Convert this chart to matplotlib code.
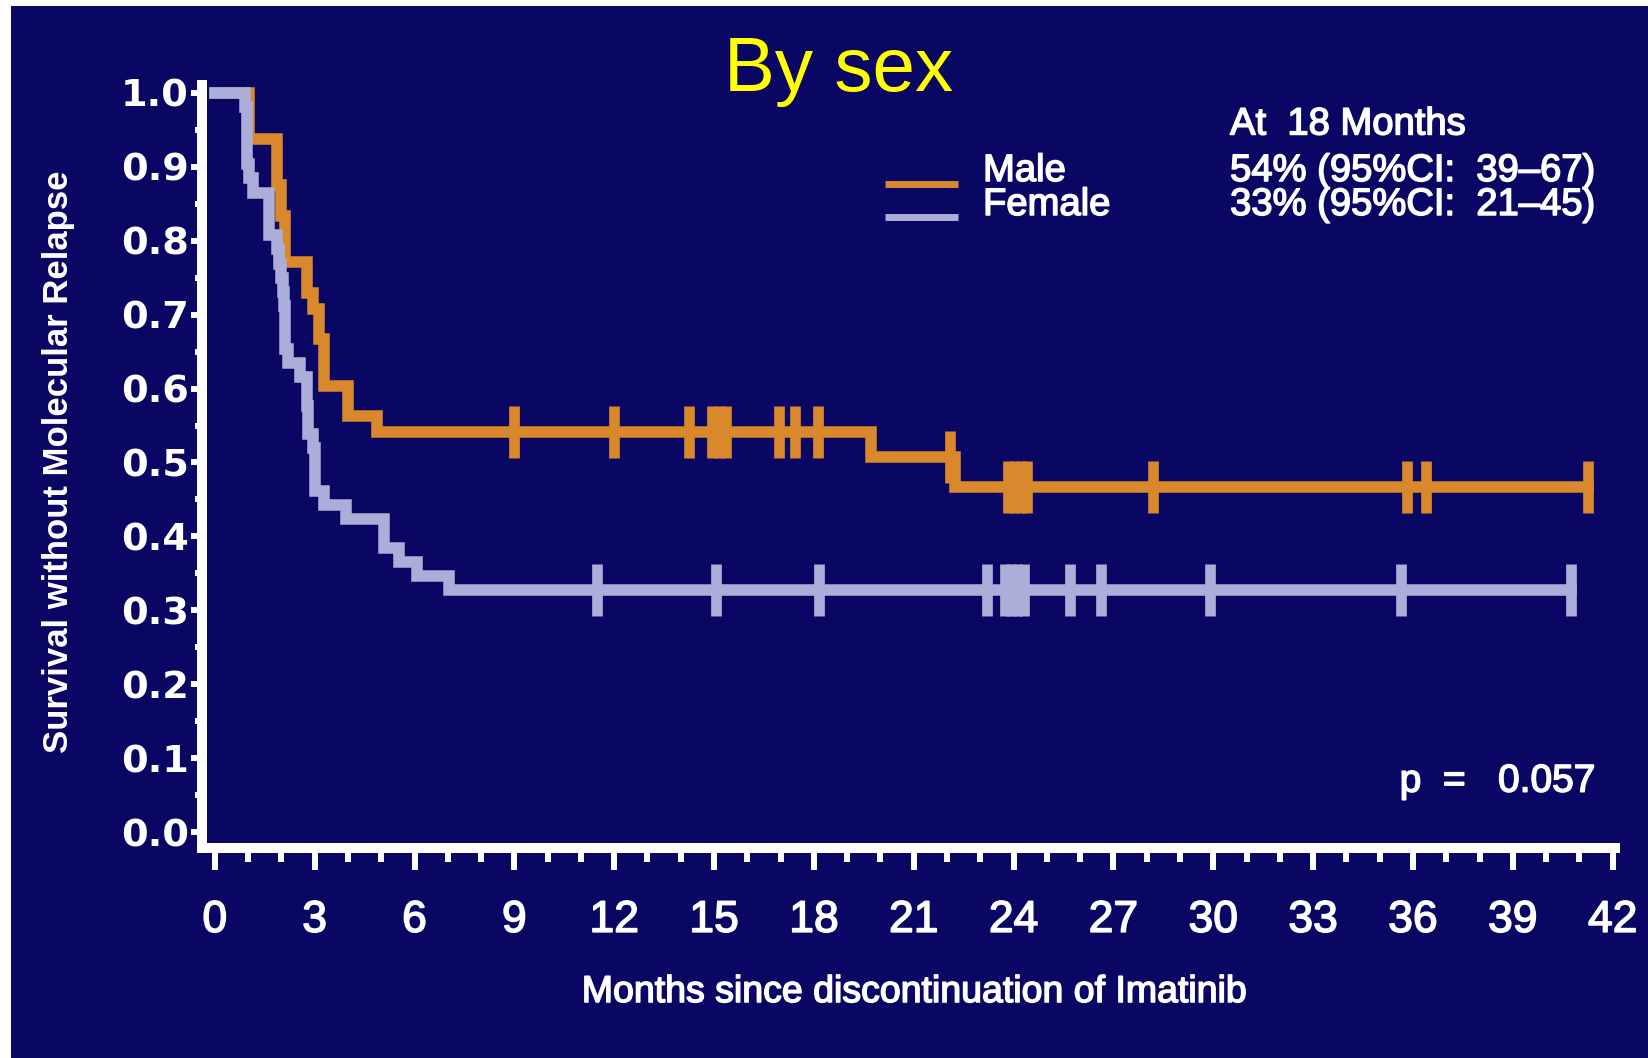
import numpy as np
import matplotlib.pyplot as plt
import matplotlib.patheffects as pe
from matplotlib.patches import Rectangle
from matplotlib.lines import Line2D
from matplotlib.ticker import MultipleLocator

plt.rcParams['font.family'] = ['Liberation Sans', 'DejaVu Sans']

navy = '#0a0664'
orange = '#d9882c'
lavender = '#adadd9'

# Kaplan-Meier steps: time of event (months) and survival after it
male_t = [0, 1.02, 1.87, 1.99, 2.12, 2.78, 2.94, 3.12, 3.28, 4.01, 4.86, 19.71, 22.25, 41.25]
male_s = [1.0, 0.9375, 0.875, 0.833, 0.771, 0.729, 0.708, 0.667, 0.604, 0.5625, 0.5417, 0.507, 0.4665, 0.4665]
male_cens = [9.0, 12.0, 14.25, 14.95, 15.15, 15.35, 16.96, 17.43, 18.12, 22.1,
             23.82, 24.02, 24.22, 24.4, 28.2, 35.82, 36.39, 41.25]

female_t = [0, 0.90, 0.97, 1.02, 1.15, 1.62, 1.88, 1.94, 2.00, 2.05, 2.08, 2.11, 2.21,
            2.55, 2.76, 2.81, 2.96, 3.01, 3.28, 3.94, 5.08, 5.52, 6.08, 7.03, 40.74]
female_s = [1.0, 0.981, 0.904, 0.885, 0.865, 0.808, 0.788, 0.769, 0.750, 0.731, 0.712, 0.654, 0.635,
            0.615, 0.577, 0.538, 0.519, 0.462, 0.442, 0.423, 0.385, 0.365, 0.346, 0.327, 0.327]
female_cens = [11.47, 15.05, 18.16, 23.2, 23.74, 23.92, 24.1, 24.3, 25.71, 26.62, 29.91, 35.63, 40.74]

xticks = list(range(0, 43, 3))
yticks = [0.0, 0.1, 0.2, 0.3, 0.4, 0.5, 0.6, 0.7, 0.8, 0.9, 1.0]
ytick_labels = ['0.0', '0.1', '0.2', '0.3', '0.4', '0.5', '0.6', '0.7', '0.8', '0.9', '1.0']

# slightly heavier white lettering
heavy = [pe.withStroke(linewidth=1.1, foreground='white')]


def level_at(times, surv, c):
    i = np.searchsorted(times, c, side='right') - 1
    return [surv[k] for k in i]


def km_curve(ax, times, surv, cens, color):
    ax.step(times, surv, where='post', color=color, lw=8.3, solid_joinstyle='miter')
    ax.plot(cens, level_at(times, surv, cens), ls='none', marker='|', ms=37, mew=7.7, color=color)


fig = plt.figure(figsize=(16.48, 10.58), dpi=100, facecolor='white')
fig.patches.append(Rectangle((11 / 1648, 0), 1, 1 - 6 / 1058, transform=fig.transFigure,
                             facecolor=navy, edgecolor='none', zorder=-10))

ax = fig.add_axes([0.12257, 0.19802, 0.85740, 0.72164])
ax.set_facecolor('none')

km_curve(ax, male_t, male_s, male_cens, orange)
km_curve(ax, female_t, female_s, female_cens, lavender)

ax.set_xlim(-0.385, 42.07)
ax.set_ylim(-0.0219, 1.0104)

for side in ['top', 'right']:
    ax.spines[side].set_visible(False)
for side in ['left', 'bottom']:
    ax.spines[side].set_color('white')
    ax.spines[side].set_linewidth(7.2)

ax.set_xticks(xticks, [str(x) for x in xticks], path_effects=heavy)
ax.xaxis.set_minor_locator(MultipleLocator(1))
ax.set_yticks(yticks, ytick_labels, fontfamily='DejaVu Sans', fontweight='bold')
ax.yaxis.set_minor_locator(MultipleLocator(0.05))

ax.tick_params(axis='x', which='major', length=16, width=4.3, color='white',
               labelcolor='white', labelsize=32, pad=21)
ax.tick_params(axis='x', which='minor', length=10.4, width=4.3, color='white')
ax.tick_params(axis='y', which='major', length=8, width=4.3, color='white',
               labelcolor='white', labelsize=27.5, pad=1.5)
ax.tick_params(axis='y', which='minor', length=5, width=4.3, color='white')

fig.text(0.5091, 0.9143, 'By sex', ha='center', va='baseline', fontsize=55, color='#ffff00')

fig.text(0.5549, 0.0529, 'Months since discontinuation of Imatinib', ha='center', va='baseline',
         fontsize=27, color='white', path_effects=heavy)
fig.text(0.0352, 0.5633, 'Survival without Molecular Relapse', rotation=90, ha='center', va='center',
         fontsize=25, fontweight='bold', color='white')

# legend with the 18-month estimates
fig.add_artist(Line2D([0.5370, 0.5813], [0.8264, 0.8264], transform=fig.transFigure,
                      color=orange, lw=5, solid_capstyle='butt'))
fig.add_artist(Line2D([0.5370, 0.5813], [0.7952, 0.7952], transform=fig.transFigure,
                      color=lavender, lw=5, solid_capstyle='butt'))
legend_text = dict(fontsize=27.5, color='white', va='baseline', path_effects=heavy)
fig.text(0.7464, 0.8729, 'At  18 Months', **legend_text)
fig.text(0.5965, 0.8289, 'Male', **legend_text)
fig.text(0.5965, 0.7968, 'Female', **legend_text)
fig.text(0.7464, 0.8289, '54% (95%CI:  39–67)', **legend_text)
fig.text(0.7464, 0.7968, '33% (95%CI:  21–45)', **legend_text)

fig.text(0.9678, 0.2517, 'p  =   0.057', fontsize=28, color='white', ha='right', va='baseline',
         path_effects=heavy)

fig.savefig('out.png', dpi=100, facecolor=fig.get_facecolor())
